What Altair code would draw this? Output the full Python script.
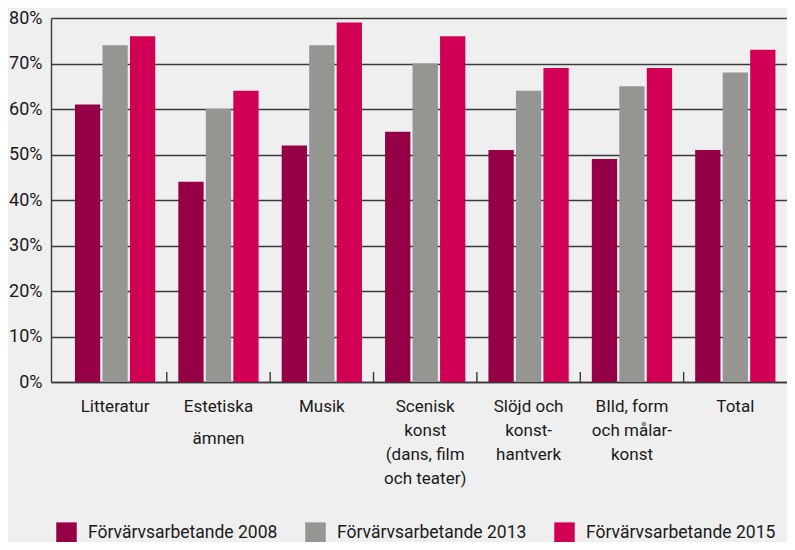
import altair as alt
import pandas as pd

categories = [
    "Litteratur",
    "Estetiska|ämnen",
    "Musik",
    "Scenisk|konst|(dans, film|och teater)",
    "Slöjd och|konst-|hantverk",
    "BIld, form|och målar-|konst",
    "Total",
]
series = ["Förvärvsarbetande 2008", "Förvärvsarbetande 2013", "Förvärvsarbetande 2015"]
v2008 = [0.61, 0.44, 0.52, 0.55, 0.51, 0.49, 0.51]
v2013 = [0.74, 0.60, 0.74, 0.70, 0.64, 0.65, 0.68]
v2015 = [0.76, 0.64, 0.79, 0.76, 0.69, 0.69, 0.73]
colors = ["#960046", "#959592", "#d20055"]
y_ticks = [0, 0.1, 0.2, 0.3, 0.4, 0.5, 0.6, 0.7, 0.8]

rows = []
for i, c in enumerate(categories):
    for s, vals in zip(series, [v2008, v2013, v2015]):
        rows.append({"kategori": c, "serie": s, "andel": vals[i]})
df = pd.DataFrame(rows)
ticks_df = pd.DataFrame({"kategori": categories[1:]})
# second line of "Estetiska ämnen" is set with wider spacing, as in the original
second_line_df = pd.DataFrame({"kategori": [categories[1]], "rad": [categories[1].split("|")[1]]})

FONT = "Roboto"
TXT = "#1a1a1a"
LINE = "#3a3a3a"

xscale = alt.Scale(domain=categories, paddingInner=0, paddingOuter=0.06, align=1)
yscale = alt.Scale(domain=[0, 0.8], nice=False)

x_axis = alt.Axis(
    title=None,
    labelAngle=0,
    labelExpr="datum.label == 'Estetiska|ämnen' ? 'Estetiska' : split(datum.label, '|')",
    ticks=False,
    domain=True,
    domainColor=LINE,
    domainWidth=1.4,
    labelPadding=16,
    labelLineHeight=24,
    labelFontSize=17,
    labelLimit=200,
    labelBaseline="top",
)

bars = alt.Chart(df).mark_bar().encode(
    x=alt.X("kategori:N", scale=xscale, sort=categories, axis=x_axis),
    xOffset=alt.XOffset(
        "serie:N",
        scale=alt.Scale(domain=series, paddingInner=0.08, paddingOuter=0.42),
    ),
    y=alt.Y(
        "andel:Q",
        scale=yscale,
        axis=alt.Axis(
            title=None,
            format=".0%",
            values=y_ticks,
            ticks=False,
            domain=True,
            domainColor=LINE,
            domainWidth=1.4,
            grid=True,
            gridColor=LINE,
            gridWidth=1.4,
            labelPadding=9,
            labelFontSize=18,
        ),
    ),
    color=alt.Color(
        "serie:N",
        scale=alt.Scale(domain=series, range=colors),
        legend=alt.Legend(
            title=None,
            orient="none",
            legendX=5,
            legendY=504,
            direction="horizontal",
            columns=3,
            symbolType="square",
            symbolSize=420,
            symbolStrokeWidth=0,
            symbolOpacity=1,
            labelFontSize=17.5,
            labelOffset=11,
            columnPadding=27,
            labelLimit=300,
            padding=0,
        ),
    ),
)

tick_marks = alt.Chart(ticks_df).mark_rule(color=LINE, strokeWidth=1.4).encode(
    x=alt.X("kategori:N", scale=xscale, sort=categories, bandPosition=0, axis=x_axis),
    y=alt.datum(0),
    y2=alt.datum(0.022),
)

second_line = alt.Chart(second_line_df).mark_text(
    font=FONT, fontSize=17, color=TXT, baseline="middle", align="center"
).encode(
    x=alt.X("kategori:N", scale=xscale, sort=categories, axis=x_axis),
    y=alt.value(421),
    text="rad:N",
)

chart = (
    alt.layer(bars, tick_marks, second_line)
    .properties(
        width=736,
        height=364,
        background="#efefef",
        autosize=alt.AutoSizeParams(type="none"),
        padding={"left": 43, "top": 10, "right": 0, "bottom": 160},
    )
    .configure_view(stroke=None)
    .configure_axis(labelFont=FONT, labelColor=TXT)
    .configure_legend(labelFont=FONT, labelColor=TXT)
)

chart.save("out.html", embed_options={"renderer": "svg", "actions": False})
